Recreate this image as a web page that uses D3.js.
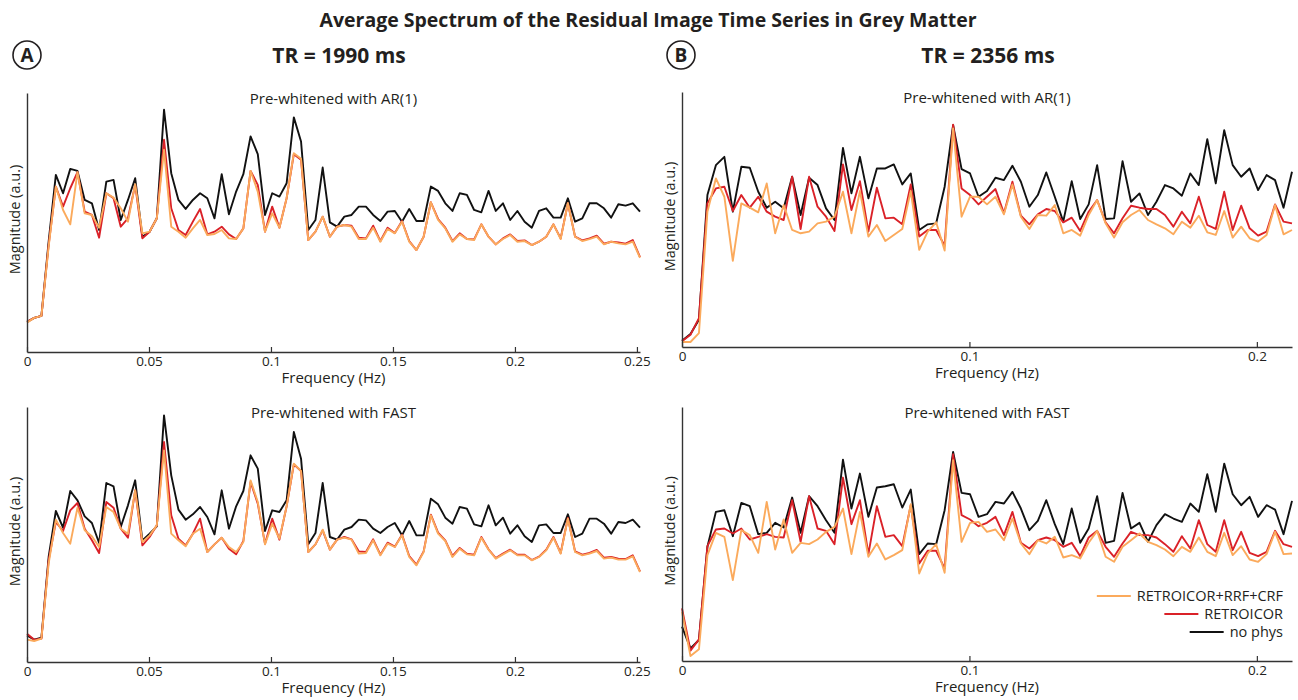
<!DOCTYPE html>
<html>
<head>
<meta charset="utf-8">
<script src="https://cdn.jsdelivr.net/npm/d3@7/dist/d3.min.js"></script>
<style>
  body { margin: 0; background: #fff; }
  svg text { font-family: "Open Sans", "Noto Sans", sans-serif; fill: #231f20; }
</style>
</head>
<body>
<svg id="chart" width="1298" height="700"></svg>
<script>
// frequency grids: spectrum bins k/(N*TR), 0 .. Nyquist
var trA = 1.99, nA = 170;   // TR = 1990 ms -> 86 bins
var trB = 2.356, nB = 144;  // TR = 2356 ms -> 73 bins

// magnitudes (a.u.)
// A, pre-whitened with AR(1)
var arA_nophys = [90,102,108,330,530,475,548,542,455,445,365,510,515,395,455,520,345,360,400,725,535,455,428,455,475,460,400,532,412,480,532,645,592,410,475,465,505,702,630,365,395,552,388,375,
  405,410,435,435,410,392,420,422,390,428,392,392,495,482,445,422,475,470,425,418,482,422,445,395,422,390,372,422,430,402,402,460,390,400,445,445,430,402,442,438,445,420];
var arA_retro = [90,102,108,320,495,435,490,538,420,410,342,475,460,375,400,500,340,360,400,635,430,365,350,390,428,352,360,375,352,338,370,542,500,360,435,372,460,592,575,335,360,405,345,375,
  380,378,342,340,378,332,372,356,392,332,305,345,448,398,372,332,355,338,337,382,345,322,340,352,332,334,320,330,345,382,340,445,345,334,340,348,324,330,328,324,335,284];
var arA_full = [88,102,108,315,495,425,382,538,415,410,372,475,462,430,390,502,355,360,400,605,375,360,342,370,395,350,353,365,340,338,370,542,480,360,415,372,460,595,578,335,360,405,345,375,
  380,375,338,338,372,330,368,355,390,330,305,345,448,395,370,330,352,338,335,382,345,322,338,350,330,332,320,330,345,382,338,445,345,332,338,345,322,330,325,322,330,282];

// A, pre-whitened with FAST
var fastA_nophys = [80,67,73,315,453,403,513,485,437,417,357,537,527,405,470,545,365,385,407,740,560,457,427,443,465,435,383,515,400,467,513,620,580,393,455,450,485,690,610,353,387,537,375,367,
  397,405,427,425,400,387,405,417,380,423,380,380,490,473,433,415,465,460,413,407,470,410,433,385,410,377,360,410,413,387,387,443,375,385,430,430,415,385,420,417,427,403];
var fastA_retro = [85,67,70,305,420,393,455,477,400,365,327,480,463,400,373,515,350,375,410,660,440,370,350,385,430,330,353,373,340,323,363,540,475,355,430,367,467,593,573,330,353,395,337,367,
  375,368,332,330,368,322,358,346,382,318,292,332,442,388,365,318,342,325,322,375,338,312,325,337,322,322,306,316,337,375,327,432,332,322,327,336,313,315,310,309,320,272];
var fastA_full = [67,63,70,295,427,387,355,463,395,377,345,465,450,400,385,515,360,380,410,635,385,365,347,385,400,330,353,373,345,330,360,545,480,353,415,370,467,595,573,330,353,397,337,367,
  373,367,325,327,365,320,355,345,380,315,290,330,440,385,363,315,340,323,320,373,337,310,323,335,320,320,305,315,335,373,325,430,330,320,325,333,310,313,307,307,317,270];

// B, pre-whitened with AR(1)
var arB_nophys = [19,39,82,457,547,572,407,542,539,467,419,437,417,512,397,509,487,417,382,599,462,572,447,537,537,549,489,522,352,369,372,482,667,535,522,452,469,
  509,502,545,497,422,457,525,452,377,499,385,429,547,385,387,559,437,462,397,437,487,477,455,522,487,625,492,652,547,512,537,472,517,502,419,527];
var arB_retro = [17,37,87,432,477,482,409,457,419,452,407,392,382,512,355,512,422,392,349,549,412,499,347,479,387,389,369,489,332,352,352,305,669,477,457,429,452,
  475,402,497,395,369,399,415,409,375,389,349,407,442,375,342,387,425,419,415,415,397,362,407,372,452,367,355,467,352,425,357,335,347,429,377,372];
var arB_full = [15,15,42,407,507,452,259,432,419,405,492,342,427,352,342,347,372,377,392,467,342,469,332,367,319,337,355,469,292,347,375,290,657,392,452,452,429,
  452,399,489,392,355,397,395,427,342,352,335,397,442,372,329,375,397,412,382,369,357,339,377,359,395,345,337,409,329,362,327,317,337,427,339,352];

// B, pre-whitened with FAST
var fastB_nophys = [103,38,63,343,448,453,375,475,465,381,385,415,401,491,385,495,465,423,385,605,458,563,433,521,525,531,461,515,321,353,351,453,628,505,501,433,441,
  478,473,508,458,393,421,483,411,351,458,355,398,495,355,361,505,398,415,358,408,441,428,418,473,448,561,448,593,501,468,493,433,468,455,381,481];
var fastB_retro = [158,31,65,345,395,398,383,398,365,373,381,373,371,483,358,495,398,391,351,551,411,483,321,465,373,378,345,468,293,331,331,278,621,438,425,405,415,
  433,378,448,355,338,363,371,363,343,355,315,371,391,343,313,353,388,378,378,371,351,328,375,338,423,351,328,423,333,388,325,315,328,391,351,343];
var fastB_full = [148,15,35,318,385,373,243,393,378,325,478,335,425,325,355,351,365,388,403,458,321,448,313,353,305,318,333,471,263,323,351,265,603,358,415,418,388,
  395,363,428,353,321,363,353,373,311,318,308,355,391,313,298,343,363,383,358,348,335,315,343,328,371,328,315,385,318,345,305,298,321,388,321,323];

var ticksA = [0, 0.05, 0.1, 0.15, 0.2, 0.25];
var ticksB = [0, 0.1, 0.2];
var seriesNames = ["RETROICOR+RRF+CRF", "RETROICOR", "no phys"];
var colors = {full: "#fbaa5c", retro: "#da2128", nophys: "#111111"};

var svg = d3.select("#chart");

var panels = [
  {tr: trA, n: nA, ticks: ticksA, sub: "Pre-whitened with AR(1)", nophys: arA_nophys, retro: arA_retro, full: arA_full,
   left: 27, right: 640, top: 93, bottom: 352, ymax: 775},
  {tr: trA, n: nA, ticks: ticksA, sub: "Pre-whitened with FAST", nophys: fastA_nophys, retro: fastA_retro, full: fastA_full,
   left: 27, right: 640, top: 407, bottom: 662, ymax: 765},
  {tr: trB, n: nB, ticks: ticksB, sub: "Pre-whitened with AR(1)", nophys: arB_nophys, retro: arB_retro, full: arB_full,
   left: 682, right: 1292, top: 92, bottom: 347, ymax: 767},
  {tr: trB, n: nB, ticks: ticksB, sub: "Pre-whitened with FAST", nophys: fastB_nophys, retro: fastB_retro, full: fastB_full,
   left: 682, right: 1292, top: 407, bottom: 661, ymax: 763}
];

panels.forEach(function(p) {
  var freq = function(d, k) { return k / (p.n * p.tr); };
  var nyq = (p.nophys.length - 1) / (p.n * p.tr);
  var x = d3.scaleLinear().domain([0, nyq]).range([p.left, p.right]);
  var y = d3.scaleLinear().domain([0, p.ymax]).range([p.bottom, p.top]);
  var g = svg.append("g");

  var line = d3.line().x(function(d, k) { return x(freq(d, k)); }).y(function(d) { return y(d); });

  [["nophys", colors.nophys], ["retro", colors.retro], ["full", colors.full]].forEach(function(s) {
    g.append("path").datum(p[s[0]])
      .attr("fill", "none").attr("stroke", s[1]).attr("stroke-width", 1.9)
      .attr("stroke-linejoin", "round")
      .attr("d", line);
  });

  // axes
  var xAxis = d3.axisBottom(x).tickValues(p.ticks).tickSizeInner(-5).tickSizeOuter(0).tickPadding(4)
    .tickFormat(d3.format("~g"));
  var gx = g.append("g").attr("transform", "translate(0," + p.bottom + ")").call(xAxis);
  gx.select(".domain").attr("stroke", "#333").attr("stroke-width", 1.4);
  gx.selectAll(".tick line").attr("stroke", "#333").attr("stroke-width", 1.2);
  gx.selectAll(".tick text").attr("font-size", 13.5).attr("fill", "#231f20")
    .style("font-family", "'Open Sans','Noto Sans',sans-serif");

  var gy = g.append("g").attr("transform", "translate(" + p.left + ",0)")
    .call(d3.axisLeft(y).tickValues([]).tickSizeOuter(0));
  gy.select(".domain").attr("stroke", "#333").attr("stroke-width", 1.4);

  var cx = (p.left + p.right) / 2;
  g.append("text").attr("x", cx).attr("y", p.top + 11).attr("text-anchor", "middle")
    .attr("font-size", 15).text(p.sub);
  g.append("text").attr("x", cx).attr("y", p.bottom + 30.5).attr("text-anchor", "middle")
    .attr("font-size", 15).text("Frequency (Hz)");
  g.append("text").attr("transform", "translate(" + (p.left - 7) + "," + ((p.top + p.bottom) / 2 - 3) + ") rotate(-90)")
    .attr("text-anchor", "middle").attr("font-size", 14.5).text("Magnitude (a.u.)");
});

// headings
svg.append("text").attr("x", 648).attr("y", 27).attr("text-anchor", "middle")
  .attr("font-size", 19.5).attr("font-weight", "bold")
  .text("Average Spectrum of the Residual Image Time Series in Grey Matter");

[["A", 27, "TR = 1990 ms", 339], ["B", 681, "TR = 2356 ms", 988]].forEach(function(h) {
  svg.append("circle").attr("cx", h[1]).attr("cy", 55).attr("r", 14)
    .attr("fill", "none").attr("stroke", "#231f20").attr("stroke-width", 1.6);
  svg.append("text").attr("x", h[1]).attr("y", 62).attr("text-anchor", "middle")
    .attr("font-size", 19).attr("font-weight", "bold").text(h[0]);
  svg.append("text").attr("x", h[3]).attr("y", 62.5).attr("text-anchor", "middle")
    .attr("font-size", 21).attr("font-weight", "bold").text(h[2]);
});

// legend (bottom right panel)
var legend = svg.append("g");
var legendColors = [colors.full, colors.retro, colors.nophys];
var legendY = [596, 614, 632];
seriesNames.forEach(function(name, i) {
  var t = legend.append("text").attr("x", 1283).attr("y", legendY[i] + 5).attr("text-anchor", "end")
    .attr("font-size", 14.5).text(name);
  var w = t.node().getComputedTextLength();
  var x1 = 1283 - w - 6;
  legend.append("line").attr("x1", x1 - 34).attr("x2", x1).attr("y1", legendY[i]).attr("y2", legendY[i])
    .attr("stroke", legendColors[i]).attr("stroke-width", 1.9);
});
</script>
</body>
</html>
